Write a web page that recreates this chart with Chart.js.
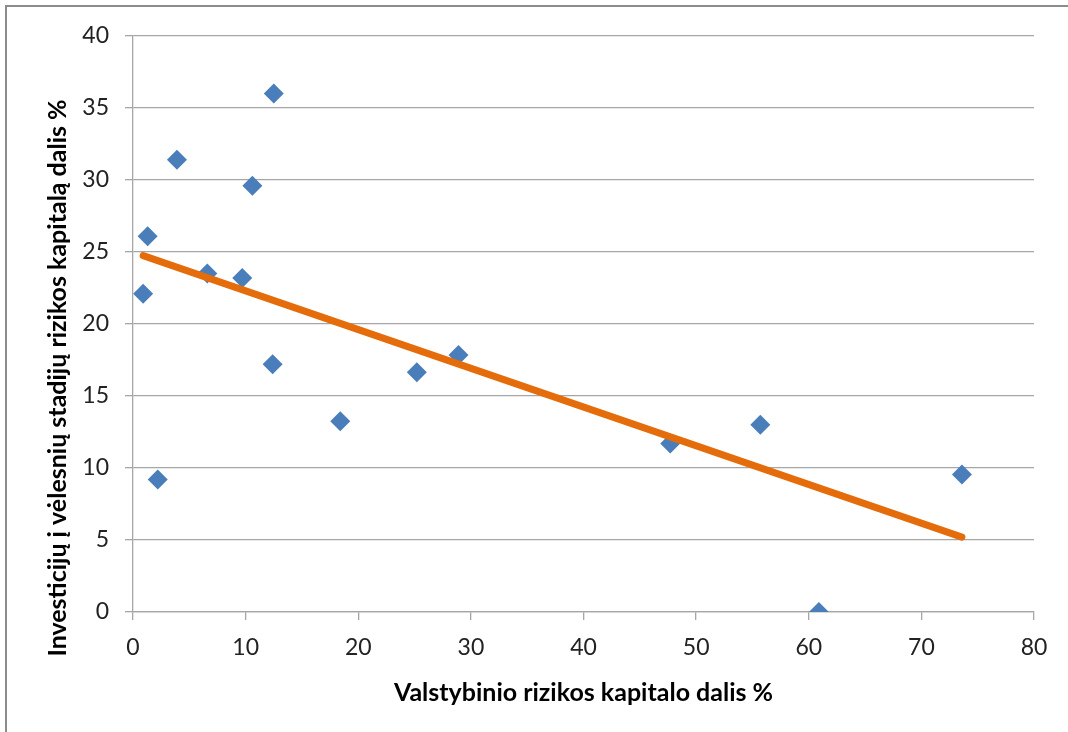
<!DOCTYPE html>
<html>
<head>
<meta charset="utf-8">
<script src="https://cdn.jsdelivr.net/npm/chart.js@4"></script>
<style>
  html, body { margin: 0; padding: 0; background: #fff; }
  #wrap { position: relative; width: 1068px; height: 732px; overflow: hidden; }
  #c { position: absolute; left: 0; top: 0; }
  #frame { position: absolute; left: 5px; top: 5px; right: -10px; bottom: -10px;
           border-top: 2px solid #8c8c8c; border-left: 2px solid #8c8c8c; pointer-events: none; }
</style>
</head>
<body>
<div id="wrap">
  <canvas id="c" width="1068" height="732"></canvas>
  <div id="frame"></div>
</div>
<script>
// Data
const xValues = [0.9, 1.3, 2.2, 3.9, 6.6, 9.7, 10.6, 12.5, 12.4, 18.4, 25.2, 28.9, 47.7, 55.7, 60.9, 73.6];
const yValues = [22.1, 26.1, 9.2, 31.4, 23.5, 23.2, 29.6, 36.0, 17.2, 13.25, 16.65, 17.85, 11.7, 13.0, 0, 9.55];
const trendX = [0.9, 73.6];
const trendY = [24.75, 5.2];
const xTitle = 'Valstybinio rizikos kapitalo dalis %';
const yTitle = 'Investicijų į vėlesnių stadijų rizikos kapitalą dalis %';

const FONT = 'Lato, "Open Sans", sans-serif';
const GRID = '#a6a6a6';

const yTitlePlugin = {
  id: 'yTitlePlugin',
  afterDraw(chart) {
    const ctx = chart.ctx;
    const a = chart.chartArea;
    ctx.save();
    ctx.font = 'bold 25px ' + FONT;
    ctx.fillStyle = '#000';
    ctx.textAlign = 'center';
    ctx.textBaseline = 'middle';
    ctx.translate(a.left - 75, (a.top + a.bottom) / 2 + 54);
    ctx.rotate(-Math.PI / 2);
    ctx.fillText(yTitle, 0, 0);
    ctx.restore();
  }
};

new Chart(document.getElementById('c'), {
  type: 'scatter',
  data: {
    datasets: [
      {
        label: 'trend',
        data: trendX.map((x, i) => ({ x, y: trendY[i] })),
        showLine: true,
        borderColor: '#e46c0a',
        borderWidth: 7,
        borderCapStyle: 'round',
        pointRadius: 0,
        pointHoverRadius: 0,
        fill: false
      },
      {
        label: 'data',
        data: xValues.map((x, i) => ({ x, y: yValues[i] })),
        pointStyle: 'rectRot',
        pointRadius: 10,
        pointHoverRadius: 10,
        backgroundColor: '#4a7ebb',
        borderColor: '#4a7ebb',
        borderWidth: 0
      }
    ]
  },
  options: {
    responsive: false,
    animation: false,
    devicePixelRatio: 1,
    layout: { padding: { left: 0, right: 34, top: 36, bottom: 0 } },
    plugins: { legend: { display: false }, tooltip: { enabled: false } },
    scales: {
      x: {
        type: 'linear',
        min: 0, max: 80,
        afterFit(s) { s.height = 120; },
        ticks: { stepSize: 10, color: '#222', font: { family: FONT, size: 23 }, padding: 14 },
        grid: { drawOnChartArea: false, drawTicks: true, tickLength: 8, color: GRID, lineWidth: 1.3 },
        border: { display: true, color: GRID, width: 1.3 },
        title: { display: true, text: xTitle, color: '#000', font: { family: FONT, size: 25, weight: 'bold' }, padding: { top: 0, bottom: 24 } }
      },
      y: {
        type: 'linear',
        min: 0, max: 40,
        afterFit(s) { s.width = 133; },
        ticks: { stepSize: 5, color: '#222', font: { family: FONT, size: 23 }, padding: 16 },
        grid: { drawOnChartArea: true, drawTicks: true, tickLength: 8, color: GRID, lineWidth: 1.3 },
        border: { display: true, color: GRID, width: 1.3 }
      }
    }
  },
  plugins: [yTitlePlugin]
});
</script>
</body>
</html>
